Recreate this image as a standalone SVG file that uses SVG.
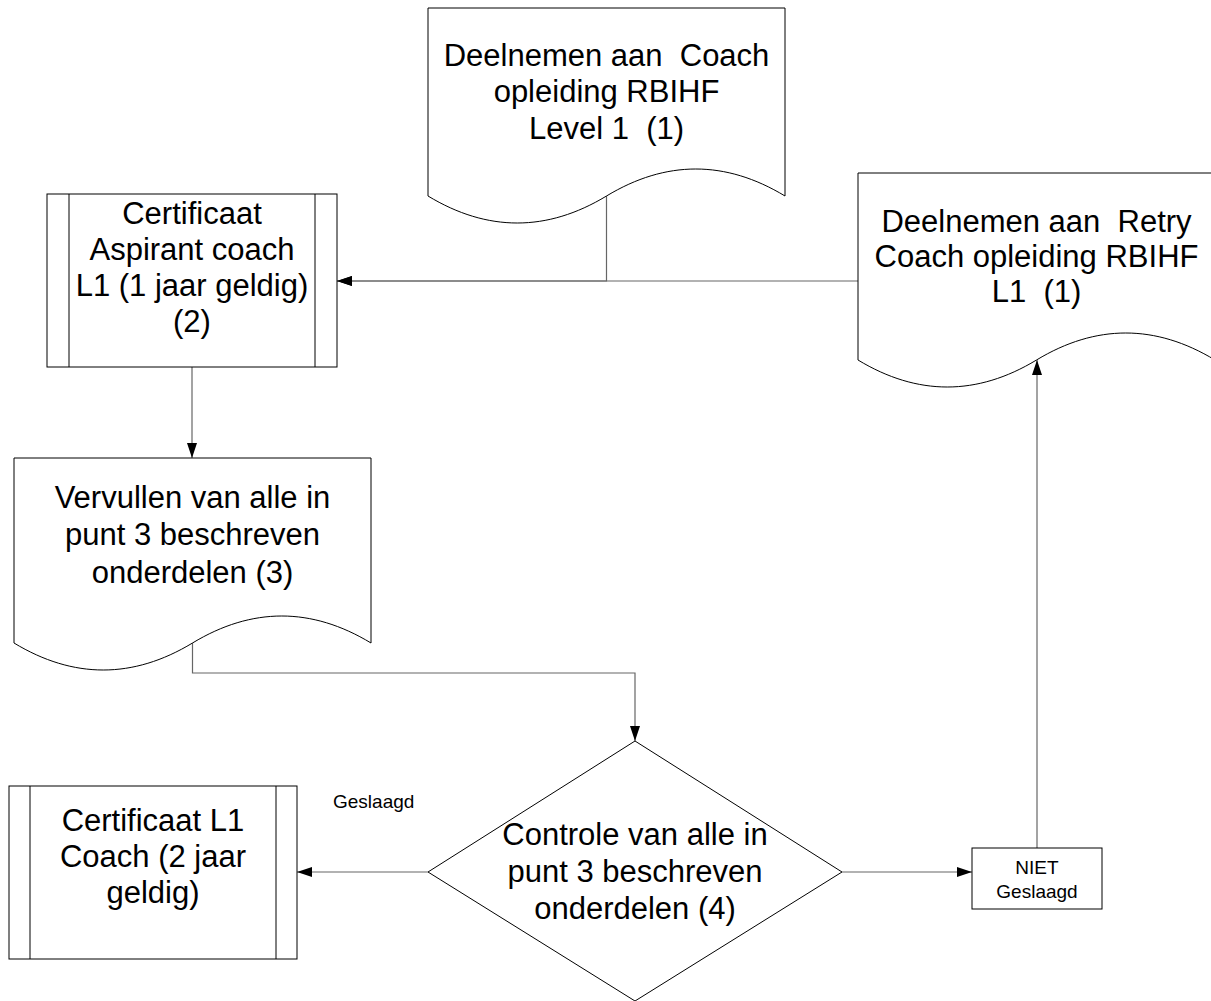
<svg xmlns="http://www.w3.org/2000/svg" width="1211" height="1001" viewBox="0 0 1211 1001">
<style>
.shape{fill:#fff;stroke:#000;stroke-width:1}
.conn{fill:none;stroke:#666;stroke-width:1.2}
.t{font-family:"Liberation Sans",Arial,sans-serif;font-size:31px;fill:#000;text-anchor:middle;white-space:pre}
.s{font-family:"Liberation Sans",Arial,sans-serif;font-size:19px;fill:#000}
</style>
<defs>
<marker id="arr" markerUnits="userSpaceOnUse" markerWidth="16" markerHeight="11" refX="15" refY="5" orient="auto">
<path d="M0,0 L15,5 L0,10 Z" fill="#000"/>
</marker>
</defs>
<rect width="1211" height="1001" fill="#fff"/>
<g id="connectors">
<polyline class="conn" points="606.5,196 606.5,281 337,281" marker-end="url(#arr)"/>
<line class="conn" x1="858" y1="281" x2="337" y2="281" marker-end="url(#arr)"/>
<line class="conn" x1="192" y1="367" x2="192" y2="458" marker-end="url(#arr)"/>
<polyline class="conn" points="192.5,643 192.5,673 635,673 635,741" marker-end="url(#arr)"/>
<line class="conn" x1="428" y1="872" x2="297" y2="872" marker-end="url(#arr)"/>
<line class="conn" x1="842" y1="872" x2="972" y2="872" marker-end="url(#arr)"/>
<line class="conn" x1="1037" y1="848" x2="1037" y2="360" marker-end="url(#arr)"/>
</g>
<g id="node-deelnemen">
<path class="shape" d="M428,8 H785 V196 C725.5,160 666,160 606.5,196 C547,232 487.5,232 428,196 Z"/>
<text class="t" xml:space="preserve"><tspan x="606.5" y="66">Deelnemen aan  Coach</tspan><tspan x="606.5" y="102">opleiding RBIHF</tspan><tspan x="606.5" y="139">Level 1  (1)</tspan></text>
</g>
<g id="node-retry">
<path class="shape" d="M858,173 H1215 V360 C1155.5,324 1096,324 1036.5,360 C977,396 917.5,396 858,360 Z"/>
<text class="t" xml:space="preserve"><tspan x="1036.5" y="232">Deelnemen aan  Retry</tspan><tspan x="1036.5" y="267">Coach opleiding RBIHF</tspan><tspan x="1036.5" y="302">L1  (1)</tspan></text>
</g>
<g id="node-cert-aspirant">
<rect class="shape" x="47" y="194" width="290" height="173"/>
<line class="shape" x1="69" y1="194" x2="69" y2="367"/>
<line class="shape" x1="315" y1="194" x2="315" y2="367"/>
<text class="t"><tspan x="192" y="224">Certificaat</tspan><tspan x="192" y="260">Aspirant coach</tspan><tspan x="192" y="296">L1 (1 jaar geldig)</tspan><tspan x="192" y="332">(2)</tspan></text>
</g>
<g id="node-vervullen">
<path class="shape" d="M14,458 H371 V643 C311.5,607 252,607 192.5,643 C133,679 73.5,679 14,643 Z"/>
<text class="t"><tspan x="192.5" y="508">Vervullen van alle in</tspan><tspan x="192.5" y="545">punt 3 beschreven</tspan><tspan x="192.5" y="583">onderdelen (3)</tspan></text>
</g>
<g id="node-controle">
<polygon class="shape" points="635,741 842,872 635,1001 428,872"/>
<text class="t"><tspan x="635" y="845">Controle van alle in</tspan><tspan x="635" y="882">punt 3 beschreven</tspan><tspan x="635" y="919">onderdelen (4)</tspan></text>
</g>
<g id="node-cert-l1">
<rect class="shape" x="9" y="786" width="288" height="173"/>
<line class="shape" x1="30" y1="786" x2="30" y2="959"/>
<line class="shape" x1="276" y1="786" x2="276" y2="959"/>
<text class="t"><tspan x="153" y="831">Certificaat L1</tspan><tspan x="153" y="867">Coach (2 jaar</tspan><tspan x="153" y="903">geldig)</tspan></text>
</g>
<g id="label-geslaagd">
<text class="s" x="333" y="808">Geslaagd</text>
</g>
<g id="node-niet">
<rect class="shape" x="972" y="848" width="130" height="61" stroke-width="1.5"/>
<text class="s" text-anchor="middle"><tspan x="1037" y="874">NIET</tspan><tspan x="1037" y="898">Geslaagd</tspan></text>
</g>
</svg>
